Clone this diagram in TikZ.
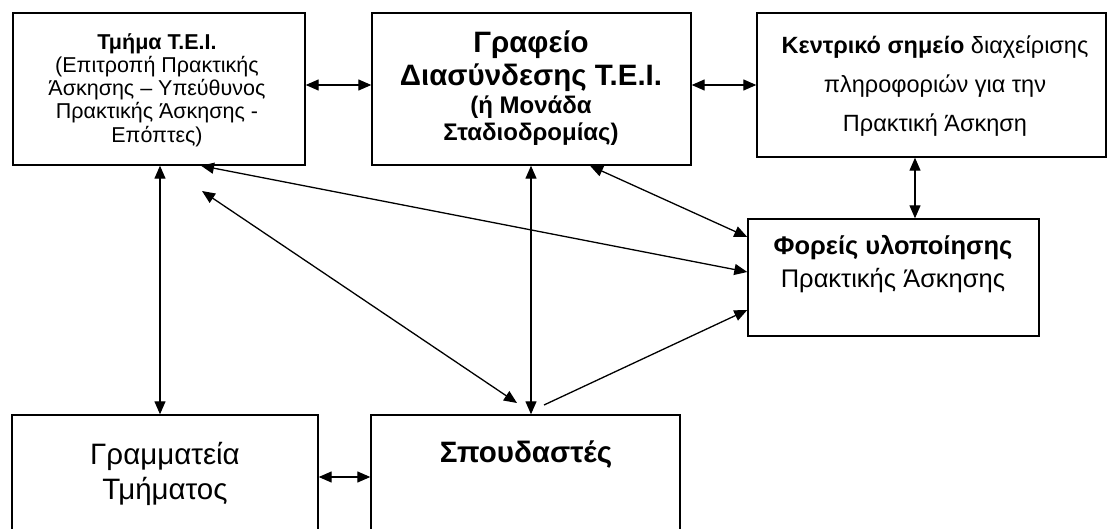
\documentclass[tikz,border=0pt]{standalone}
\usepackage{fontspec}
\setmainfont{Liberation Sans}
\usetikzlibrary{arrows.meta,calc}
\tikzset{
  box/.style={draw=black, line width=1.4pt, rectangle, inner sep=0pt},
  txt/.style={align=center, inner sep=0pt},
  arr/.style={line width=1.3pt, {Triangle[length=13pt,width=11pt]}-{Triangle[length=13pt,width=11pt]}},
  arrone/.style={line width=1.3pt, -{Triangle[length=13pt,width=11pt]}}
}
\begin{document}
\begin{tikzpicture}[x=1pt,y=-1pt]
\useasboundingbox (0,0) rectangle (1108,529);
\clip (0,0) rectangle (1108,529);
% boxes
\node[box, minimum width=292pt, minimum height=152pt] (A) at (159,89) {};
\node[box, minimum width=319pt, minimum height=152pt] (B) at (531.5,89) {};
\node[box, minimum width=349pt, minimum height=144pt] (C) at (931.5,85) {};
\node[box, minimum width=291pt, minimum height=117pt] (D) at (893.5,277.5) {};
\node[box, minimum width=306pt, minimum height=200pt] (E) at (165,515) {};
\node[box, minimum width=309pt, minimum height=200pt] (F) at (525.5,515) {};
% texts
\node[txt, font=\fontsize{21.5}{23.3}\selectfont] (At) at (157,90) {\textbf{Τμήμα Τ.Ε.Ι.}\\(Επιτροπή Πρακτικής\\Άσκησης – Υπεύθυνος\\Πρακτικής Άσκησης -\\Επόπτες)};
\node[txt, font=\fontsize{29.5}{33.5}\selectfont\bfseries] (Bt1) at (531,61) {Γραφείο\\Διασύνδεσης Τ.Ε.Ι.};
\node[txt, font=\fontsize{24}{27}\selectfont\bfseries] (Bt2) at (531,121) {(ή Μονάδα\\Σταδιοδρομίας)};
\node[txt, font=\fontsize{23.5}{39}\selectfont] (Ct) at (935,86) {\textbf{Κεντρικό σημείο} διαχείρισης\\πληροφοριών για την\\Πρακτική Άσκηση};
\node[txt, font=\fontsize{25.5}{33}\selectfont] (Dt) at (893,264) {\textbf{Φορείς υλοποίησης}\\Πρακτικής Άσκησης};
\node[txt, font=\fontsize{29.5}{35}\selectfont] (Et) at (165,474) {Γραμματεία\\Τμήματος};
\node[txt, font=\fontsize{29.5}{35}\selectfont\bfseries] (Ft) at (526,455) {Σπουδαστές};
% free ends
\coordinate (a1) at (202,191);
\coordinate (f1) at (517,403);
\coordinate (f2) at (544,405);
% connectors
\draw[arr] (A.east |- 0,85) -- (B.west |- 0,85);
\draw[arr] (B.east |- 0,85) -- (C.west |- 0,85);
\draw[arr] (A.south -| 160,0) -- (E.north -| 160,0);
\draw[arr] (B.south -| 531,0) -- (F.north -| 531,0);
\draw[arr] (C.south -| 915,0) -- (D.north -| 915,0);
\draw[arr] (E.east |- 0,477) -- (F.west |- 0,477);
\draw[arr] (B.south -| 590,0) -- (D.west |- 0,237);
\draw[arr] (A.south -| 201,0) -- (D.west |- 0,272);
\draw[arr] (a1) -- (f1);
\draw[arrone] (f2) -- (D.west |- 0,310);
\end{tikzpicture}
\end{document}
